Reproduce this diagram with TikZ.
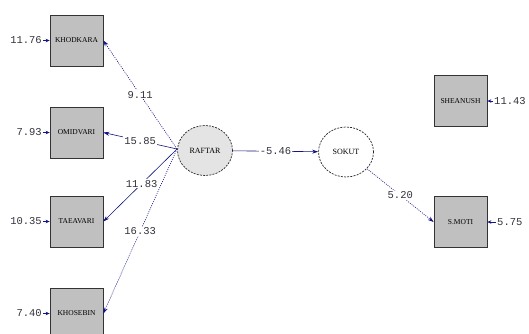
\documentclass[tikz,border=0pt]{standalone}
\usepackage{fontspec}
\setmainfont{Liberation Serif}
\newfontfamily\numfont{Liberation Mono}
\usetikzlibrary{arrows.meta,shapes.geometric}
\definecolor{navy}{RGB}{20,20,130}
\definecolor{boxgray}{RGB}{192,192,192}
\definecolor{ellgray}{RGB}{228,228,228}
\definecolor{numcol}{RGB}{50,50,60}
\tikzset{
  obsbox/.style={draw=black!80, fill=boxgray, line width=0.7pt, minimum width=53pt, minimum height=51pt, inner sep=0pt, font=\fontsize{7.5}{8}\selectfont},
  latent/.style={ellipse, draw=black!85, dash pattern=on 2pt off 1.2pt, line width=0.7pt, minimum width=55pt, minimum height=50pt, inner sep=0pt, font=\fontsize{8}{9}\selectfont},
  numlab/.style={font=\numfont\fontsize{10.5}{11}\selectfont, text=numcol, inner sep=1pt},
  edgelab/.style={numlab, fill=white},
  path/.style={draw=navy, line width=0.6pt, -{Stealth[length=6pt,width=4pt]}},
  errarr/.style={draw=navy, line width=0.8pt, -{Stealth[length=4pt,width=3.5pt]}},
  dotline/.style={dash pattern=on 1pt off 1.2pt},
}
\begin{document}
\begin{tikzpicture}[x=1pt,y=-1pt]
\useasboundingbox (0,0) rectangle (529,333);
\clip (0,0) rectangle (529,333);
% observed boxes
\node[obsbox] (kho) at (76.5,40.5) {KHODKARA};
\node[obsbox] (omi) at (76.5,132.5) {OMIDVARI};
\node[obsbox] (tae) at (76.5,221.5) {TAEAVARI};
\node[obsbox] (khs) at (76.5,313.5) {KHOSEBIN};
\node[obsbox] (she) at (460.5,101) {SHEANUSH};
\node[obsbox] (smo) at (460.5,222) {S.MOTI};
% latent
\node[latent, fill=ellgray] (raf) at (205,150.5) {RAFTAR};
\node[latent, fill=white] (sok) at (346,152) {SOKUT};
% error terms
\node[numlab, anchor=east] (e1) at (43,40.5) {11.76};
\node[numlab, anchor=east] (e2) at (43,132.5) {7.93};
\node[numlab, anchor=east] (e3) at (43,221.5) {10.35};
\node[numlab, anchor=east] (e4) at (43,313.5) {7.40};
\node[numlab, anchor=west] (e5) at (493,101) {11.43};
\node[numlab, anchor=west] (e6) at (496,222) {5.75};
\draw[errarr] (e1) -- (kho);
\draw[errarr] (e2) -- (omi);
\draw[errarr] (e3) -- (tae);
\draw[errarr] (e4) -- (khs);
\draw[errarr] (e5) -- (she);
\draw[errarr] (e6) -- (smo);
% paths
\coordinate (rl) at (177,149);
\draw[path, dotline] (rl) -- (kho.east) node[edgelab, pos=0.5] {9.11};
\draw[path] (rl) -- (omi.east) node[edgelab, pos=0.5] {15.85};
\draw[path] (rl) -- (tae.east) node[edgelab, pos=0.48] {11.83};
\draw[path, dotline] (rl) -- (khs.east) node[edgelab, pos=0.5] {16.33};
\draw[path] (raf) -- (sok) node[edgelab, pos=0.5] {-5.46};
\draw[path, dotline] (sok) -- (smo.west) node[edgelab, pos=0.5] {5.20};
\end{tikzpicture}
\end{document}
